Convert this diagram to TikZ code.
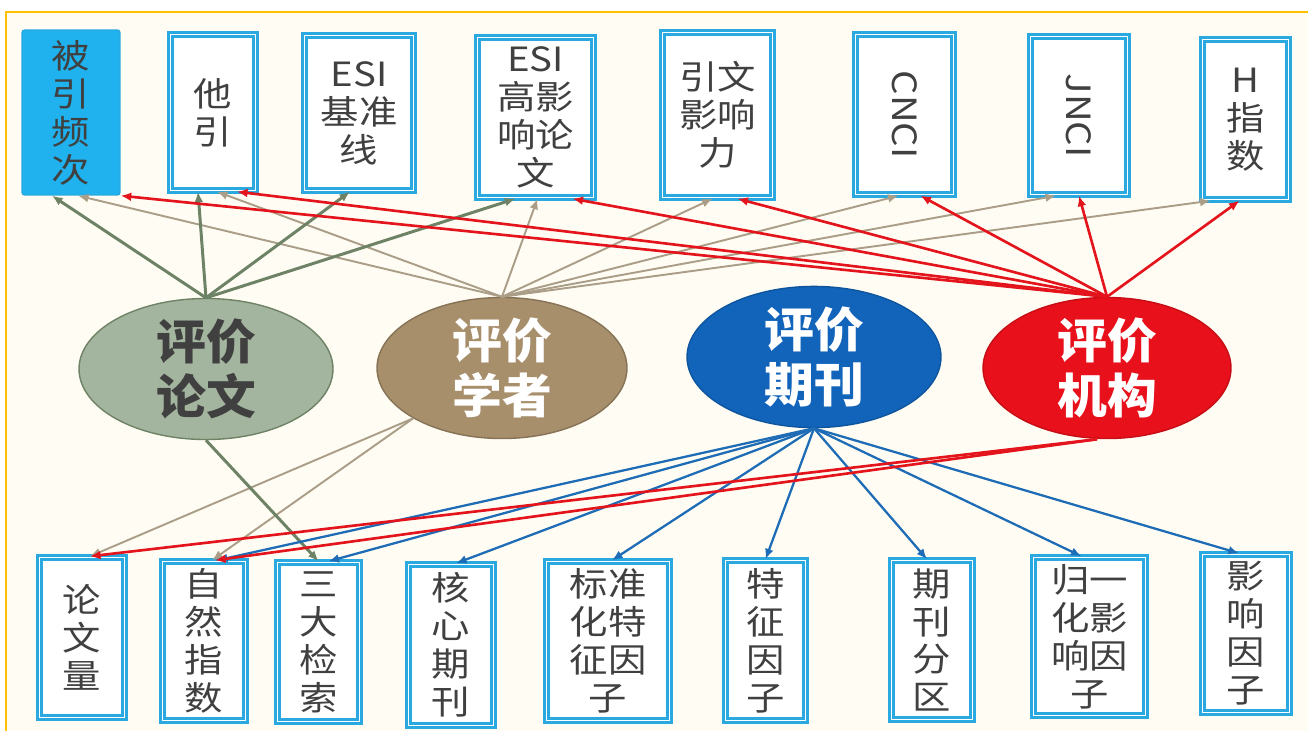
\documentclass[tikz,border=0pt]{standalone}
\usepackage{fontspec}
\usepackage{graphicx}
\setmainfont{Noto Sans CJK SC}
\newfontfamily\metricfont[FakeStretch=1.15]{Noto Sans CJK SC}
\newfontfamily\subjectfont[FakeStretch=1.05]{Noto Sans CJK SC}
\usetikzlibrary{shapes.geometric,arrows.meta,calc}

\definecolor{cream}{HTML}{FFFDF3}
\definecolor{frameorange}{HTML}{FFC000}
\definecolor{boxline}{HTML}{2AA9E0}
\definecolor{cyanfill}{HTML}{1FB2EE}
\definecolor{txtgray}{HTML}{404040}
\definecolor{lwgreen}{HTML}{A4B59F}
\definecolor{lwline}{HTML}{6E8266}
\definecolor{xztan}{HTML}{A88F6C}
\definecolor{xzline}{HTML}{AB9E88}
\definecolor{qkblue}{HTML}{1264BA}
\definecolor{qkline}{HTML}{1E6CB6}
\definecolor{jgred}{HTML}{E8101A}
\definecolor{jgline}{HTML}{E3141C}

\tikzset{
  wh/.style 2 args={minimum width=#1cm,minimum height=#2cm},
  metric/.style={draw=boxline,line width=1.4pt,double=white,double distance=0.8pt,
    fill=white,inner sep=0pt,align=center,text=txtgray,
    font=\metricfont\fontsize{19}{21.6}\selectfont},
  subject/.style={ellipse,line width=0.8pt,inner sep=0pt,align=center,
    font=\subjectfont\bfseries\fontsize{27}{31}\selectfont},
  lwedge/.style={draw=lwline,line width=1.7pt,->},
  xzedge/.style={draw=xzline,line width=1.1pt,->},
  qkedge/.style={draw=qkline,line width=1.3pt,->},
  jgedge/.style={draw=jgline,line width=1.5pt,->},
  >={Latex[length=6pt,width=5pt]}
}

\begin{document}
\begin{tikzpicture}[x=0.02cm,y=-0.02cm]
\useasboundingbox (0,0) rectangle (1308,731);
\fill[white] (0,0) rectangle (1308,731);
\fill[cream] (6,12) rectangle (1308,731);
\draw[frameorange,line width=1.2pt] (6,731) -- (6,12) -- (1308,12);

% top row
\node[metric,wh={1.96}{3.3},fill=cyanfill,draw=boxline,line width=0.8pt,double=none,rounded corners=1.5pt] (bei) at (71,112.5) {被\\引\\频\\次};
\node[metric,wh={1.7}{3.12}] (ta) at (213,112.5) {他\\引};
\node[metric,wh={2.18}{3.1}] (esi) at (359,113) {ESI\\基准\\线};
\node[metric,wh={2.32}{3.2}] (esihi) at (535.5,117.5) {ESI\\高影\\响论\\文};
\node[metric,wh={2.2}{3.3}] (yw) at (717.5,115) {引文\\影响\\力};
\node[metric,wh={1.96}{3.2}] (cnci) at (904.5,114.5) {\rotatebox{-90}{CNCI}};
\node[metric,wh={1.94}{3.16}] (jnci) at (1079,115.5) {\rotatebox{-90}{JNCI}};
\node[metric,wh={1.72}{3.2}] (hidx) at (1245.5,119.5) {H\\指\\数};

% bottom row
\node[metric,wh={1.7}{3.2}] (lwl) at (82,637.5) {论\\文\\量};
\node[metric,wh={1.66}{3.18}] (zr) at (204,641) {自\\然\\指\\数};
\node[metric,wh={1.64}{3.18}] (sd) at (318.5,642) {三\\大\\检\\索};
\node[metric,wh={1.7}{3.22}] (hx) at (451,645) {核\\心\\期\\刊};
\node[metric,wh={2.46}{3.18}] (bzh) at (608,641) {标准\\化特\\征因\\子};
\node[metric,wh={1.6}{3.2}] (tz) at (765.5,640.5) {特\\征\\因\\子};
\node[metric,wh={1.62}{3.18}] (fq) at (932,640) {期\\刊\\分\\区};
\node[metric,wh={2.24}{3.16}] (gyh) at (1089.5,636.5) {归一\\化影\\响因\\子};
\node[metric,wh={1.74}{3.16}] (yx) at (1246,633.5) {影\\响\\因\\子};

% subjects
\node[subject,wh={5.08}{2.74},fill=lwgreen,draw=lwline,text=txtgray] (lw) at (206,369) {评价\\论文};
\node[subject,wh={5.0}{2.68},fill=xztan,draw=xztan!80!black,text=white] (xz) at (502,368) {评价\\学者};
\node[subject,wh={5.08}{2.7},fill=qkblue,draw=qkblue!85!black,text=white] (qk) at (814,357) {评价\\期刊};
\node[subject,wh={4.96}{2.78},fill=jgred,draw=jgred!85!black,text=white] (jg) at (1107,368) {评价\\机构};

\draw[xzedge] (xz.north) -- ($(bei.south)+(7,0)$);
\draw[xzedge] (xz.north) -- ($(ta.south)+(4,0)$);
\draw[xzedge] (xz.north) -- ($(esihi.south)+(2,0)$);
\draw[xzedge] (xz.north) -- ($(yw.south)+(-5,0)$);
\draw[xzedge] (xz.north) -- ($(cnci.south)+(-6,0)$);
\draw[xzedge] (xz.north) -- ($(jnci.south)+(-23,0)$);
\draw[xzedge] (xz.north) -- ($(hidx.south)+(-35,0)$);
\draw[xzedge] (xz.south west) -- ($(lwl.north)+(8,0)$);
\draw[xzedge] (xz.south west) -- ($(zr.north)+(8,0)$);

\draw[lwedge] (lw.north) -- ($(bei.south)+(-19,0)$);
\draw[lwedge] (lw.north) -- ($(ta.south)+(-15,0)$);
\draw[lwedge] (lw.north) -- ($(esi.south)+(-9,0)$);
\draw[lwedge] (lw.north) -- ($(esihi.south)+(-20,0)$);
\draw[lwedge] (lw.south) -- (sd.north);

\draw[qkedge] (qk.south) -- ($(zr.north)+(13,0)$);
\draw[qkedge] (qk.south) -- ($(sd.north)+(10,0)$);
\draw[qkedge] (qk.south) -- ($(hx.north)+(5,0)$);
\draw[qkedge] (qk.south) -- ($(bzh.north)+(4,0)$);
\draw[qkedge] (qk.south) -- (tz.north);
\draw[qkedge] (qk.south) -- ($(fq.north)+(-5,0)$);
\draw[qkedge] (qk.south) -- ($(gyh.north)+(-8,0)$);
\draw[qkedge] (qk.south) -- ($(yx.north)+(-7,0)$);

\draw[jgedge] (jg.north) -- (bei.south east);
\draw[jgedge] (jg.north) -- ($(ta.south)+(24,0)$);
\draw[jgedge] (jg.north) -- ($(esihi.south)+(37,0)$);
\draw[jgedge] (jg.north) -- ($(yw.south)+(20,0)$);
\draw[jgedge] (jg.north) -- ($(cnci.south)+(16,0)$);
\draw[jgedge] (jg.north) -- (jnci.south);
\draw[jgedge] (jg.north) -- ($(hidx.south)+(-6,0)$);
\draw[jgedge] ($(jg.south)+(-10,0)$) -- ($(lwl.north)+(8,0)$);
\draw[jgedge] ($(jg.south)+(-10,0)$) -- ($(zr.north)+(11,0)$);
\end{tikzpicture}
\end{document}
